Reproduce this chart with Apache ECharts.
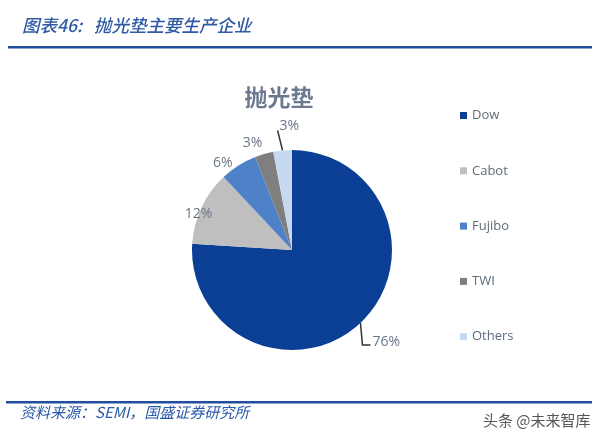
<!DOCTYPE html>
<html><head><meta charset="utf-8">
<script src="https://cdn.jsdelivr.net/npm/echarts@6/dist/echarts.min.js"></script>
<style>html,body{margin:0;padding:0;background:#fff}#c{width:602px;height:447px}</style>
</head><body><div id="c"></div>
<script>
const categories = ['Dow', 'Cabot', 'Fujibo', 'TWI', 'Others'];
const values = [76, 12, 6, 3, 3];
const colors = ['#0b3f95', '#bfbfbf', '#4f81c8', '#7f7f7f', '#c6d9f1'];
const showLine = [true, false, false, false, true];
const labelShift = [[0, 0], [26, 11], [25, -9], [35, -13], [0, 0]];

const chart = echarts.init(document.getElementById('c'));
chart.setOption({
  animation: false,
  backgroundColor: '#fff',
  title: {
    text: '抛光垫', left: 274, top: 81, textAlign: 'center',
    textStyle: { fontFamily: 'Noto Sans CJK SC', fontSize: 23, fontWeight: 'bold', color: '#6b7890' }
  },
  legend: {
    orient: 'vertical', left: 455, top: 104, itemGap: 42.3,
    itemWidth: 7, itemHeight: 7, icon: 'rect',
    textStyle: { fontSize: 13, color: '#5f6b7a', fontFamily: 'Open Sans, sans-serif' },
    data: categories
  },
  graphic: [
    { type: 'text', left: 22, top: 17, style: { text: '图表46:   抛光垫主要生产企业', font: 'italic 500 17.5px "Noto Sans CJK SC"', fill: '#2f5aa5' } },
    { type: 'rect', shape: { x: 8, y: 46, width: 584, height: 2.5 }, style: { fill: '#1f4f9e' } },
    { type: 'rect', shape: { x: 6, y: 401, width: 586, height: 2.5 }, style: { fill: '#1f4f9e' } },
    { type: 'text', left: 20, top: 405, style: { text: '资料来源：SEMI，国盛证券研究所', font: 'italic 15px "Noto Sans CJK SC"', fill: '#2a5aa8' } },
    { type: 'text', left: 483, top: 413, style: { text: '头条 @未来智库', font: '15px "Noto Sans CJK SC"', fill: '#555' } }
  ],
  series: [{
    type: 'pie', center: [292, 250], radius: 100, startAngle: 90, clockwise: true,
    label: { show: true, position: 'outside', formatter: '{c}%', fontSize: 14, color: '#6a7687', fontFamily: 'Open Sans, sans-serif' },
    labelLine: { length: 10, length2: 6, lineStyle: { color: '#333', width: 1.5 } },
    labelLayout: function (p) {
      const pts = p.labelLinePoints;
      if (p.dataIndex === 0 && pts) {
        const x = pts[0][0], y = pts[0][1];
        return { x: x + 12, y: y + 19, align: 'left', verticalAlign: 'middle',
          labelLinePoints: [[x, y], [x + 2, y + 22], [x + 10, y + 22]] };
      }
      if (p.dataIndex === 4 && pts) {
        const x = pts[0][0], y = pts[0][1];
        return { x: x - 3, y: y - 24, align: 'left', verticalAlign: 'middle',
          labelLinePoints: [[x, y], [x - 2.5, y - 10], [x - 5, y - 20]] };
      }
      const s = labelShift[p.dataIndex];
      return { dx: s[0], dy: s[1] };
    },
    data: categories.map((n, i) => ({
      name: n, value: values[i], itemStyle: { color: colors[i] },
      labelLine: { show: showLine[i] }
    }))
  }]
});
</script></body></html>
